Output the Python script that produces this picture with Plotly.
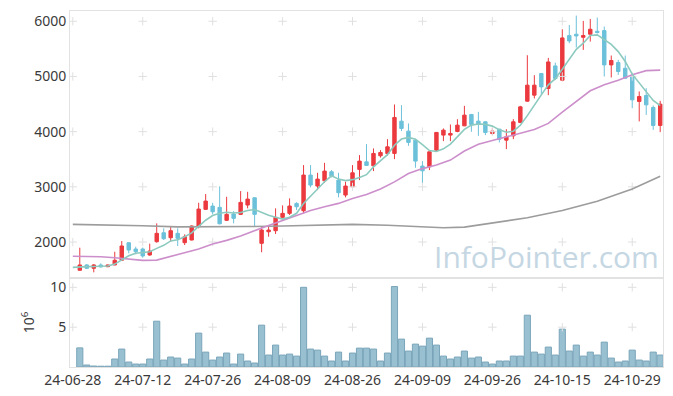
import plotly.graph_objects as go
from plotly.subplots import make_subplots

# ---------------- data ----------------
dates = [
    "24-06-28",
    "24-07-01", "24-07-02", "24-07-03", "24-07-04", "24-07-05",
    "24-07-08", "24-07-09", "24-07-10", "24-07-11", "24-07-12",
    "24-07-15", "24-07-16", "24-07-17", "24-07-18", "24-07-19",
    "24-07-22", "24-07-23", "24-07-24", "24-07-25", "24-07-26",
    "24-07-29", "24-07-30", "24-07-31", "24-08-01", "24-08-02",
    "24-08-05", "24-08-06", "24-08-07", "24-08-08", "24-08-09",
    "24-08-12", "24-08-13", "24-08-14", "24-08-16", "24-08-19",
    "24-08-20", "24-08-21", "24-08-22", "24-08-23", "24-08-26",
    "24-08-27", "24-08-28", "24-08-29", "24-08-30", "24-09-02",
    "24-09-03", "24-09-04", "24-09-05", "24-09-06", "24-09-09",
    "24-09-10", "24-09-11", "24-09-12", "24-09-13", "24-09-19",
    "24-09-20", "24-09-23", "24-09-24", "24-09-25", "24-09-26",
    "24-09-27", "24-09-30", "24-10-02", "24-10-04", "24-10-07",
    "24-10-08", "24-10-10", "24-10-11", "24-10-14", "24-10-15",
    "24-10-16", "24-10-17", "24-10-18", "24-10-21", "24-10-22",
    "24-10-23", "24-10-24", "24-10-25", "24-10-28", "24-10-29",
    "24-10-30", "24-10-31", "24-11-01", "24-11-04",
]

candle_dates = dates[1:]
opens = [1488, 1584, 1524, 1584, 1553, 1584, 1669, 1987, 1873, 1873,
         1765, 2006, 2168, 2078, 2157, 1988, 2036, 2290, 2592, 2651,
         2628, 2393, 2507, 2501, 2670, 2802, 1976, 2186, 2205, 2447,
         2519, 2700, 2567, 3213, 3014, 3110, 3273, 3122, 2851, 3001,
         3316, 3453, 3381, 3562, 3605, 3605, 4190, 4009, 3846, 3376,
         3363, 3665, 3937, 3937, 4003, 4105, 4311, 4190, 4178, 3967,
         4045, 3846, 3924, 4166, 4552, 4661, 5053, 4782, 5191, 4932,
         5741, 5765, 5710, 5765, 5819, 5831, 5209, 5252, 5149, 4999,
         4547, 4655, 4438, 4112]
highs = [1897, 1600, 1602, 1614, 1590, 1824, 2018, 1990, 1915, 1900,
         1970, 2338, 2248, 2277, 2248, 2139, 2300, 2711, 2869, 2711,
         3008, 2820, 2560, 2923, 2910, 2810, 2277, 2308, 2610, 2664,
         2791, 2720, 3394, 3394, 3254, 3435, 3303, 3254, 3092, 3394,
         3575, 3774, 3696, 3665, 3864, 4492, 4480, 4148, 3870, 3466,
         3640, 3990, 4058, 4130, 4226, 4467, 4320, 4359, 4190, 4069,
         4050, 4045, 4226, 4467, 5385, 5023, 5060, 5336, 5250, 5855,
         5933, 6103, 6006, 6042, 6067, 5904, 5379, 5300, 5379, 5059,
         4728, 4787, 4474, 4558]
lows = [1480, 1511, 1451, 1540, 1545, 1580, 1662, 1795, 1777, 1716,
        1750, 1988, 2036, 2006, 1928, 1946, 2030, 2248, 2580, 2501,
        2320, 2380, 2338, 2489, 2610, 2277, 1814, 2096, 2145, 2430,
        2489, 2579, 2519, 2990, 2941, 3073, 3171, 2809, 2809, 2929,
        3122, 3380, 3285, 3530, 3562, 3502, 4009, 3743, 3345, 3062,
        3303, 3634, 3828, 3828, 3990, 4100, 3997, 3924, 3937, 3940,
        3805, 3683, 3864, 4160, 4540, 4601, 4673, 4661, 4932, 4914,
        5602, 5524, 5481, 5632, 5780, 4999, 4981, 5029, 4960, 4425,
        4185, 4304, 4033, 3991]
closes = [1584, 1524, 1584, 1548, 1584, 1669, 1928, 1855, 1824, 1747,
          1837, 2157, 2060, 2205, 2067, 2096, 2290, 2597, 2742, 2548,
          2331, 2501, 2429, 2718, 2778, 2501, 2217, 2217, 2447, 2519,
          2652, 2639, 3213, 3032, 3140, 3285, 3195, 2893, 3014, 3254,
          3466, 3388, 3605, 3623, 3725, 4257, 4058, 3805, 3466, 3290,
          3634, 3986, 4027, 3967, 4118, 4299, 4130, 4130, 3985, 4009,
          3864, 3906, 4178, 4449, 4842, 4842, 4811, 5263, 4962, 5698,
          5644, 5734, 5741, 5855, 5795, 5209, 5289, 5090, 4968, 4576,
          4637, 4485, 4112, 4498]
volume_m = [2.4, 0.25, 0.12, 0.1, 0.1, 1.0, 2.25, 0.62, 0.37, 0.37,
            1.0, 5.75, 0.87, 1.25, 1.12, 0.37, 1.0, 4.25, 1.87, 0.87,
            1.25, 1.75, 0.37, 1.62, 0.75, 0.5, 5.25, 1.5, 2.75, 1.5,
            1.62, 1.37, 10.0, 2.25, 2.12, 1.37, 0.75, 1.87, 0.75, 1.75,
            2.37, 2.37, 2.25, 0.75, 1.75, 10.1, 3.5, 2.0, 2.87, 2.62,
            3.62, 2.75, 1.37, 1.0, 1.25, 2.0, 1.12, 1.25, 0.62, 0.37,
            0.75, 0.75, 1.37, 1.37, 6.5, 1.87, 1.62, 2.5, 1.5, 4.75,
            2.0, 2.75, 1.37, 1.87, 1.5, 3.12, 1.12, 0.62, 0.75, 2.12,
            0.87, 0.75, 1.87, 1.5]

ma5 = [1540, 1553, 1555, 1557, 1557, 1565, 1600, 1675, 1750, 1795, 1815,
       1825, 1885, 1940, 2020, 2040, 2095, 2165, 2285, 2395, 2480,
       2520, 2540, 2525, 2535, 2570, 2590, 2533, 2485, 2450, 2415,
       2450, 2520, 2697, 2830, 2962, 3092, 3200, 3140, 3113, 3130,
       3168, 3220, 3362, 3475, 3583, 3753, 3865, 3895, 3863, 3765,
       3658, 3640, 3688, 3775, 3910, 4040, 4118, 4138, 4131, 4100,
       4032, 3988, 4008, 4115, 4290, 4490, 4667, 4848, 4960, 5130,
       5303, 5492, 5603, 5743, 5753, 5673, 5581, 5450, 5270, 5042,
       4886, 4715, 4566, 4473]

ma20_idx = [0, 2, 4, 6, 8, 10, 12, 14, 16, 18, 20, 22, 24, 26, 28, 30, 32,
            34, 36, 38, 40, 42, 44, 46, 48, 50, 52, 54, 56, 58, 60, 62, 64,
            66, 68, 70, 72, 74, 76, 78, 80, 82, 84]
ma20_val = [1741, 1738, 1732, 1715, 1690, 1668, 1672, 1735, 1800, 1875,
            1965, 2030, 2110, 2210, 2300, 2390, 2480, 2570, 2640, 2700,
            2790, 2860, 2960, 3090, 3240, 3330, 3394, 3484, 3650, 3770,
            3840, 3900, 3970, 4040, 4150, 4355, 4550, 4740, 4850, 4930,
            5030, 5105, 5115]

ma_long_idx = [0, 5, 10, 15, 20, 25, 30, 35, 40, 45, 50, 53, 56, 60, 65,
               70, 75, 80, 84]
ma_long_val = [2320, 2312, 2295, 2275, 2272, 2280, 2290, 2310, 2320, 2305,
               2270, 2258, 2270, 2340, 2440, 2570, 2740, 2960, 3190]

price_ticks = [2000, 3000, 4000, 5000, 6000]
volume_ticks = [5, 10]
tick_dates = dates[::10]

# ---------------- styles ----------------
UP = "#eb3a3f"
DOWN = "#6cc1da"
FONT = "Noto Sans"
AXIS_LINE = "#e2e2e2"
CROSS = "#e0e0e0"

fig = make_subplots(rows=2, cols=1, shared_xaxes=True, vertical_spacing=0,
                    row_heights=[0.75, 0.25])

# grid crosses (drawn first, behind)
cx, cy = [], []
for d in tick_dates:
    for v in price_ticks:
        cx.append(d)
        cy.append(v)
fig.add_trace(go.Scatter(x=cx, y=cy, mode="markers", hoverinfo="skip",
                         marker=dict(symbol="cross-thin", size=6,
                                     line=dict(width=1, color=CROSS)),
                         showlegend=False), row=1, col=1)
vx, vy = [], []
for d in tick_dates:
    for v in volume_ticks:
        vx.append(d)
        vy.append(v)
fig.add_trace(go.Scatter(x=vx, y=vy, mode="markers", hoverinfo="skip",
                         marker=dict(symbol="cross-thin", size=6,
                                     line=dict(width=1, color=CROSS)),
                         showlegend=False), row=2, col=1)

# moving averages
fig.add_trace(go.Scatter(x=[dates[i] for i in ma_long_idx], y=ma_long_val,
                         mode="lines", line=dict(color="#9c9c9c", width=1.6),
                         showlegend=False), row=1, col=1)
fig.add_trace(go.Scatter(x=[dates[i] for i in ma20_idx], y=ma20_val,
                         mode="lines", line=dict(color="#cc8fcb", width=1.6),
                         showlegend=False), row=1, col=1)
fig.add_trace(go.Scatter(x=dates, y=ma5, mode="lines",
                         line=dict(color="#8ccabf", width=1.6),
                         showlegend=False), row=1, col=1)

# candles
fig.add_trace(go.Candlestick(
    x=candle_dates, open=opens, high=highs, low=lows, close=closes,
    increasing=dict(line=dict(color=UP, width=1), fillcolor=UP),
    decreasing=dict(line=dict(color=DOWN, width=1), fillcolor=DOWN),
    whiskerwidth=0, showlegend=False), row=1, col=1)

# volume
fig.add_trace(go.Bar(x=candle_dates, y=volume_m,
                     marker=dict(color="#98c0d0",
                                 line=dict(color="#7aa5ba", width=1)),
                     showlegend=False), row=2, col=1)

xcommon = dict(type="category", categoryorder="array", categoryarray=dates,
               range=[-0.4, 84.4], showgrid=False, zeroline=False,
               showline=True, linecolor=AXIS_LINE, mirror=True, ticks="",
               automargin=False,
               tickvals=tick_dates, ticktext=tick_dates,
               tickfont=dict(family=FONT, size=14, color="#3a3a3a"))
fig.update_xaxes(**xcommon)
fig.update_xaxes(rangeslider_visible=False, showticklabels=False, row=1, col=1)

fig.update_yaxes(range=[1348, 6186], tickvals=price_ticks, showgrid=False,
                 zeroline=False, showline=True, linecolor=AXIS_LINE,
                 mirror=True, ticks="", automargin=False,
                 tickfont=dict(family=FONT, size=14, color="#3a3a3a"),
                 row=1, col=1)
fig.update_yaxes(range=[0, 11.17], tickvals=volume_ticks, showgrid=False,
                 zeroline=False, showline=True, linecolor=AXIS_LINE,
                 mirror=True, ticks="", automargin=False,
                 tickfont=dict(family=FONT, size=14, color="#3a3a3a"),
                 title=dict(text="10<sup>6</sup>",
                            font=dict(family=FONT, size=14, color="#3a3a3a"),
                            standoff=12),
                 row=2, col=1)

fig.add_annotation(text="InfoPointer.com", xref="paper", yref="paper",
                   x=0.996, y=0.31, xanchor="right", yanchor="middle",
                   showarrow=False,
                   font=dict(family="Open Sans", size=30, color="#c5d7e3"))

fig.update_layout(width=673, height=396,
                  margin=dict(l=70, r=10, t=11, b=29),
                  paper_bgcolor="white", plot_bgcolor="white",
                  bargap=0.12, showlegend=False,
                  font=dict(family=FONT))

fig.write_html("out.html", config={"displayModeBar": False},
               post_script="document.body.style.margin='0';")
